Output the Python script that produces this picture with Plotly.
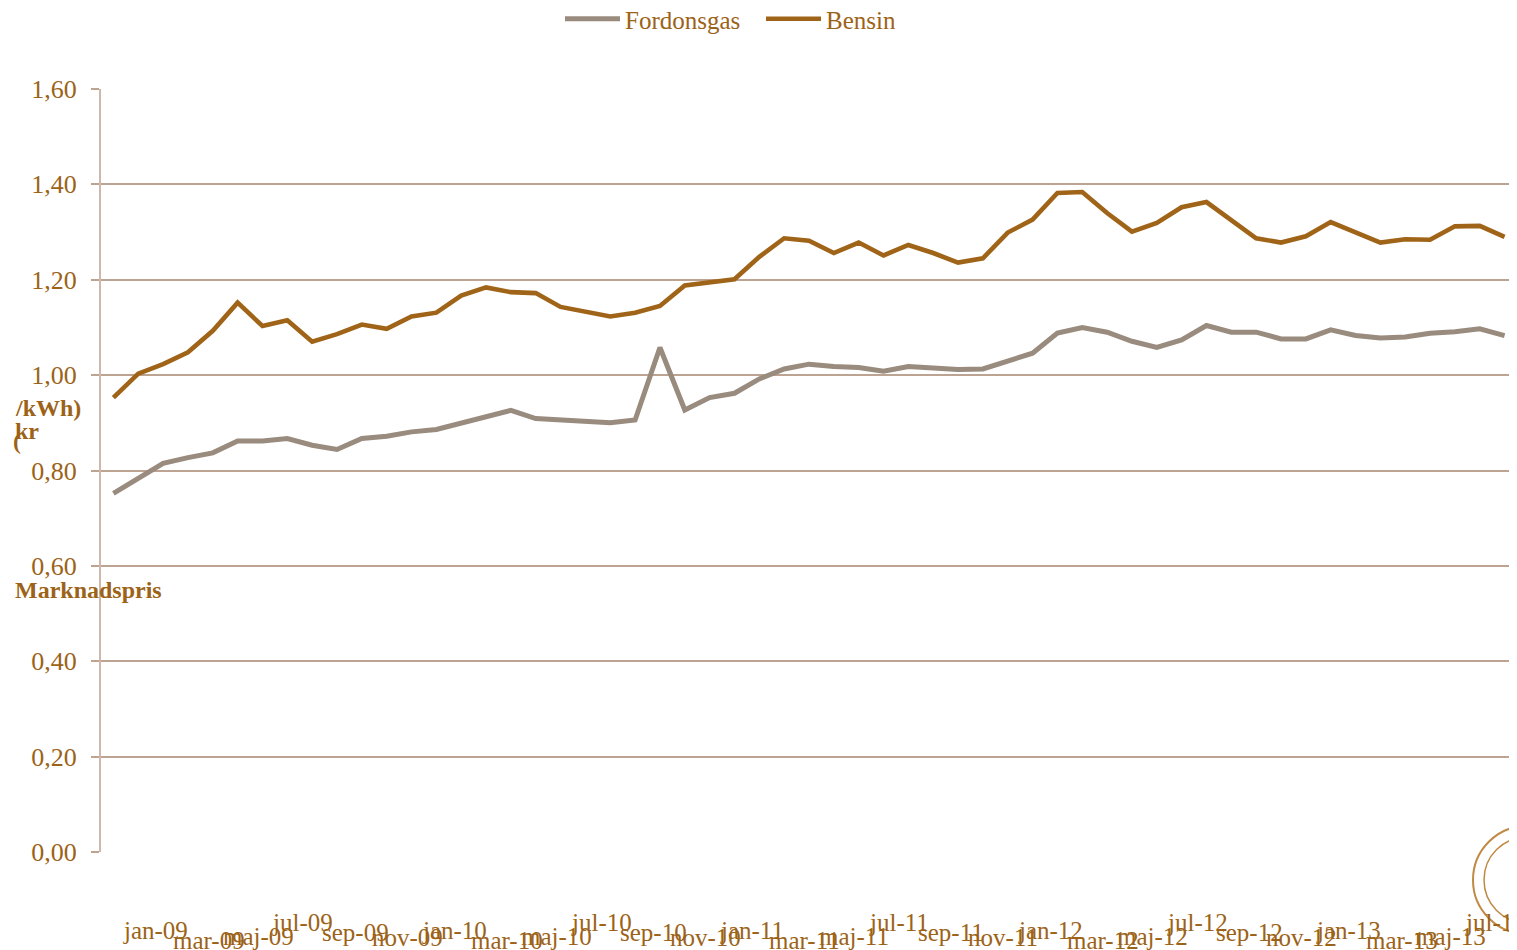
import plotly.graph_objects as go

categories = [
    "jan-09", "feb-09", "mar-09", "apr-09", "maj-09", "jun-09", "jul-09", "aug-09", "sep-09", "okt-09", "nov-09", "dec-09",
    "jan-10", "feb-10", "mar-10", "apr-10", "maj-10", "jun-10", "jul-10", "aug-10", "sep-10", "okt-10", "nov-10", "dec-10",
    "jan-11", "feb-11", "mar-11", "apr-11", "maj-11", "jun-11", "jul-11", "aug-11", "sep-11", "okt-11", "nov-11", "dec-11",
    "jan-12", "feb-12", "mar-12", "apr-12", "maj-12", "jun-12", "jul-12", "aug-12", "sep-12", "okt-12", "nov-12", "dec-12",
    "jan-13", "feb-13", "mar-13", "apr-13", "maj-13", "jun-13", "jul-13", "aug-13", "sep-13",
]

fordonsgas = [
    0.752, 0.783, 0.815, 0.827, 0.837, 0.862, 0.862, 0.867, 0.853, 0.844, 0.867, 0.872,
    0.881, 0.886, 0.900, 0.912, 0.926, 0.909, 0.906, 0.904, 0.900, 0.906, 1.058, 0.927,
    0.953, 0.962, 0.992, 1.013, 1.023, 1.018, 1.016, 1.008, 1.018, 1.015, 1.012, 1.013,
    1.030, 1.046, 1.088, 1.100, 1.090, 1.071, 1.058, 1.074, 1.104, 1.090, 1.090, 1.076,
    1.076, 1.095, 1.083, 1.078, 1.080, 1.088, 1.091, 1.097, 1.083,
]

bensin = [
    0.953, 1.003, 1.023, 1.048, 1.093, 1.152, 1.103, 1.115, 1.070, 1.086, 1.106, 1.097,
    1.123, 1.131, 1.167, 1.184, 1.174, 1.172, 1.143, 1.132, 1.123, 1.131, 1.145, 1.188,
    1.194, 1.201, 1.248, 1.287, 1.282, 1.256, 1.278, 1.251, 1.273, 1.256, 1.236, 1.245,
    1.299, 1.326, 1.382, 1.384, 1.340, 1.301, 1.319, 1.352, 1.363, 1.326, 1.287, 1.278,
    1.291, 1.321, 1.300, 1.278, 1.285, 1.284, 1.312, 1.313, 1.290,
]

y_ticks = [0.0, 0.2, 0.4, 0.6, 0.8, 1.0, 1.2, 1.4, 1.6]
y_ticktext = ["0,00", "0,20", "0,40", "0,60", "0,80", "1,00", "1,20", "1,40", "1,60"]

# ---- styling ----
OFF = 8                      # page offset of the figure (body margin)
W, H = 1517 - OFF, 950 - OFF
ML, MR, MT = 101 - OFF, 0, 89 - OFF
MB = H - (852 - OFF)
PW, PH = W - ML - MR, H - MT - MB
FONT = "Liberation Serif"
TXT = "#9C6318"
GRID = "#BCA392"
GRAY = "#998B7D"
BROWN = "#A06418"

def px_x(px):
    return (px - OFF - ML) / PW

def px_y(py):
    return (H - MB - (py - OFF)) / PH

fig = go.Figure()
fig.add_trace(go.Scatter(x=categories, y=fordonsgas, name="Fordonsgas", mode="lines",
                         line=dict(color=GRAY, width=5)))
fig.add_trace(go.Scatter(x=categories, y=bensin, name="Bensin", mode="lines",
                         line=dict(color=BROWN, width=4.6)))

# staggered x labels (as in the reference rendering)
label_center_y = {"jan": 930, "mar": 940, "maj": 936, "jul": 922, "sep": 932, "nov": 937}
annotations = []
for i in range(0, len(categories), 2):
    lab = categories[i]
    cy = label_center_y[lab[:3]]
    annotations.append(dict(
        x=lab, xref="x", y=0, yref="paper", text=lab, showarrow=False,
        xanchor="left", yanchor="middle", xshift=8, yshift=-(cy - 852),
        font=dict(family=FONT, size=25, color=TXT),
    ))

# broken y-axis title pieces: "Marknadspris (kr/kWh)"
title_pieces = [("/kWh)", 13, 408), ("kr", 13, 431), ("(", 11, 441), ("Marknadspris", 13, 590)]
for t, x0, cy in title_pieces:
    annotations.append(dict(
        x=px_x(x0), xref="paper", y=px_y(cy), yref="paper", text="<b>" + t + "</b>",
        showarrow=False, xanchor="left", yanchor="middle",
        font=dict(family=FONT, size=24, color=TXT),
    ))

shapes = [
    dict(type="circle", xref="paper", yref="paper",
         x0=px_x(1473), x1=px_x(1581), y0=px_y(934), y1=px_y(826),
         line=dict(color="#C08A45", width=2), layer="above"),
    dict(type="circle", xref="paper", yref="paper",
         x0=px_x(1484), x1=px_x(1570), y0=px_y(923), y1=px_y(837),
         line=dict(color="#C08A45", width=1.5), layer="above"),
]

fig.update_layout(
    width=W, height=H,
    margin=dict(l=ML, r=MR, t=MT, b=MB, autoexpand=False),
    paper_bgcolor="white", plot_bgcolor="white",
    font=dict(family=FONT, size=25, color=TXT),
    showlegend=True,
    legend=dict(orientation="h", x=px_x(560), xanchor="left", y=px_y(19), yref="paper",
                yanchor="middle", font=dict(family=FONT, size=25, color=TXT),
                itemwidth=55, entrywidth=131, entrywidthmode="pixels",
                bgcolor="rgba(0,0,0,0)", tracegroupgap=0),
    xaxis=dict(type="category", range=[-0.5, len(categories) - 0.5], showgrid=False,
               showticklabels=False, ticks="", showline=False, zeroline=False),
    yaxis=dict(range=[0, 1.6], tickvals=y_ticks, ticktext=y_ticktext, showgrid=True,
               gridcolor=GRID, gridwidth=2, zeroline=False, showline=True,
               linecolor="#CDB8AA", linewidth=2, ticks="outside", ticklen=8,
               tickcolor=GRID, tickwidth=2, ticklabelstandoff=9,
               tickfont=dict(family=FONT, size=26, color=TXT)),
    annotations=annotations,
    shapes=shapes,
)

fig.write_html("out.html")
